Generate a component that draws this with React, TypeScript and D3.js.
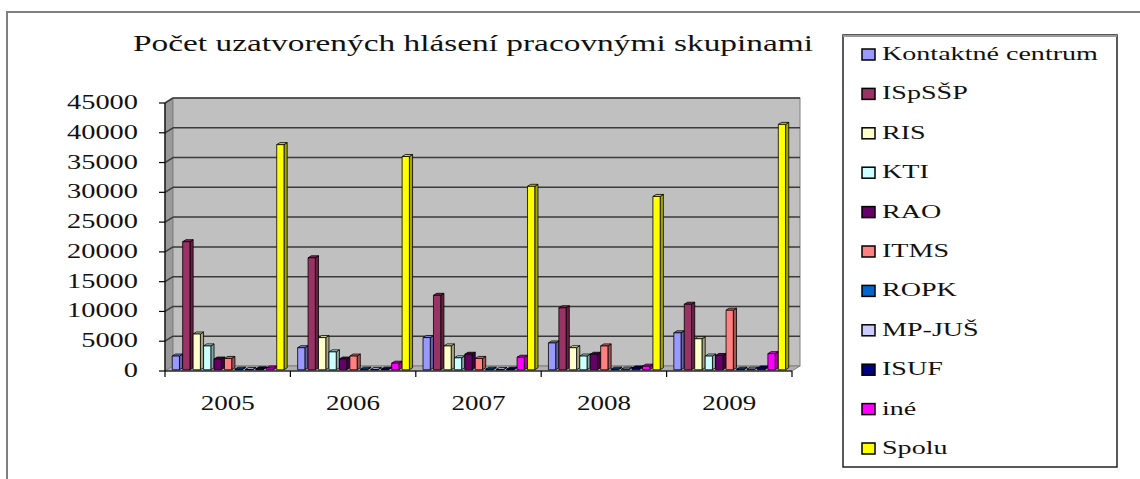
import React from 'react';
import * as d3 from 'd3';

const years = ['2005', '2006', '2007', '2008', '2009'];
const seriesNames = ['Kontaktné centrum', 'ISpSŠP', 'RIS', 'KTI', 'RAO', 'ITMS', 'ROPK', 'MP-JUŠ', 'ISUF', 'iné', 'Spolu'];
const seriesColors = ['#9999FF', '#993366', '#FFFFCC', '#CCFFFF', '#660066', '#FF8080', '#0066CC', '#CCCCFF', '#000080', '#FF00FF', '#FFFF00'];
// one array per series, values for 2005..2009
const kontaktne = [2300, 3700, 5400, 4500, 6200];
const ispssp = [21500, 18800, 12500, 10400, 11000];
const ris = [6000, 5400, 4000, 3700, 5200];
const kti = [4000, 3000, 2000, 2300, 2300];
const rao = [1800, 1800, 2600, 2600, 2400];
const itms = [1900, 2300, 1900, 4000, 10000];
const ropk = [100, 100, 100, 100, 100];
const mpjus = [50, 50, 50, 100, 100];
const isuf = [150, 100, 100, 300, 300];
const ine = [300, 1100, 2100, 600, 2700];
const spolu = [37800, 35800, 30800, 29100, 41200];
const seriesValues = [kontaktne, ispssp, ris, kti, rao, itms, ropk, mpjus, isuf, ine, spolu];
const yTicks = [0, 5000, 10000, 15000, 20000, 25000, 30000, 35000, 40000, 45000];

const FONT = "'Liberation Serif', 'Times New Roman', serif";

const App = () => {
    const left = 165, right = 792, top = 103, bottom = 371;
    const depthX = 8, depthY = -5;
    const y = d3.scaleLinear().domain([0, 45000]).range([bottom, top]);
    const x = d3.scaleBand().domain(years).range([left, right]).paddingInner(0).paddingOuter(0);
    const xs = d3.scaleBand().domain(seriesNames).range([0, x.bandwidth()]).paddingInner(0).paddingOuter(0.5);
    const step = xs.step();

    // bar depth placement
    const f0 = 0.25, f1 = 0.65;
    const sx = (f1 - f0) * depthX, sy = (f1 - f0) * depthY;
    const fw = step - sx;

    const bars = [];
    years.forEach((yr, ci) => {
        seriesNames.forEach((s, si) => {
            const v = seriesValues[si][ci];
            const col = seriesColors[si];
            const x0 = x(yr) + xs(s) + f0 * depthX;
            const yb = y(0) + f0 * depthY;
            const yt = y(v) + f0 * depthY;
            const side = d3.color(col).darker(1.2).formatHex();
            const topC = d3.color(col).darker(0.4).formatHex();
            bars.push(
                <g key={yr + s} stroke="#000" strokeWidth={0.8} strokeLinejoin="round">
                    <polygon points={`${x0 + fw},${yt} ${x0 + fw + sx},${yt + sy} ${x0 + fw + sx},${yb + sy} ${x0 + fw},${yb}`} fill={side} />
                    <polygon points={`${x0},${yt} ${x0 + sx},${yt + sy} ${x0 + fw + sx},${yt + sy} ${x0 + fw},${yt}`} fill={topC} />
                    <rect x={x0} y={yt} width={fw} height={Math.max(0, yb - yt)} fill={col} />
                </g>
            );
        });
    });

    const txt = {fontFamily: FONT};

    return (
        <svg width={1140} height={479} style={{position: 'absolute', left: 0, top: 0, background: '#fff', fontFamily: FONT}}>
            <rect x={7} y={12} width={1200} height={600} fill="none" stroke="#808080" strokeWidth={2} />

            {/* title */}
            <text x={133} y={51} fontSize={23} style={txt} textLength={680} lengthAdjust="spacingAndGlyphs" fill="#111">Počet uzatvorených hlásení pracovnými skupinami</text>

            {/* walls */}
            <polygon points={`${left},${top} ${left + depthX},${top + depthY} ${left + depthX},${bottom + depthY} ${left},${bottom}`} fill="#9a9a9a" stroke="#808080" strokeWidth={1} />
            <rect x={left + depthX} y={top + depthY} width={right - left} height={bottom - top} fill="#c0c0c0" stroke="#808080" strokeWidth={1} />
            <polygon points={`${left},${bottom} ${left + depthX},${bottom + depthY} ${right + depthX},${bottom + depthY} ${right},${bottom}`} fill="#b0b0b0" stroke="#808080" strokeWidth={1} />

            {/* gridlines */}
            {yTicks.filter(t => t > 0).map(t => (
                <g key={'g' + t} stroke="#3a3a3a" strokeWidth={1.5} fill="none">
                    <line x1={left} y1={y(t)} x2={left + depthX} y2={y(t) + depthY} />
                    <line x1={left + depthX} y1={y(t) + depthY} x2={right + depthX} y2={y(t) + depthY} />
                </g>
            ))}

            {bars}

            {/* axes */}
            <line x1={left} y1={top} x2={left} y2={bottom} stroke="#000" strokeWidth={1.2} />
            <line x1={left} y1={bottom} x2={right} y2={bottom} stroke="#000" strokeWidth={1.2} />
            {yTicks.map(t => (
                <g key={'t' + t}>
                    <line x1={left - 6} y1={y(t)} x2={left} y2={y(t)} stroke="#000" strokeWidth={1.2} />
                    <text transform={`translate(138,${y(t) + 6}) scale(1.42,1)`} textAnchor="end" fontSize={20} style={txt} fill="#111">{t}</text>
                </g>
            ))}
            {[...years.map(yr => x(yr)), right].map((v, i) => (
                <line key={'c' + i} x1={v} y1={bottom} x2={v} y2={bottom + 6} stroke="#000" strokeWidth={1.2} />
            ))}
            {years.map(yr => (
                <text key={'l' + yr} transform={`translate(${x(yr) + x.bandwidth() / 2},${bottom + 39}) scale(1.35,1)`} textAnchor="middle" fontSize={20} style={txt} fill="#111">{yr}</text>
            ))}

            {/* legend */}
            <rect x={843} y={35} width={274} height={432} fill="#fff" stroke="#222" strokeWidth={1.5} />
            <line x1={843} y1={36} x2={1117} y2={36} stroke="#999" strokeWidth={2} />
            {seriesNames.map((s, i) => (
                <g key={'lg' + s} transform={`translate(0,${54 + i * 39.4})`}>
                    <rect x={862} y={-5} width={13} height={11} fill={seriesColors[i]} stroke="#000" strokeWidth={1.5} />
                    <text transform={`translate(882,6) scale(1.56,1)`} fontSize={18} style={txt} fill="#111">{s}</text>
                </g>
            ))}
        </svg>
    );
};

export default App;
